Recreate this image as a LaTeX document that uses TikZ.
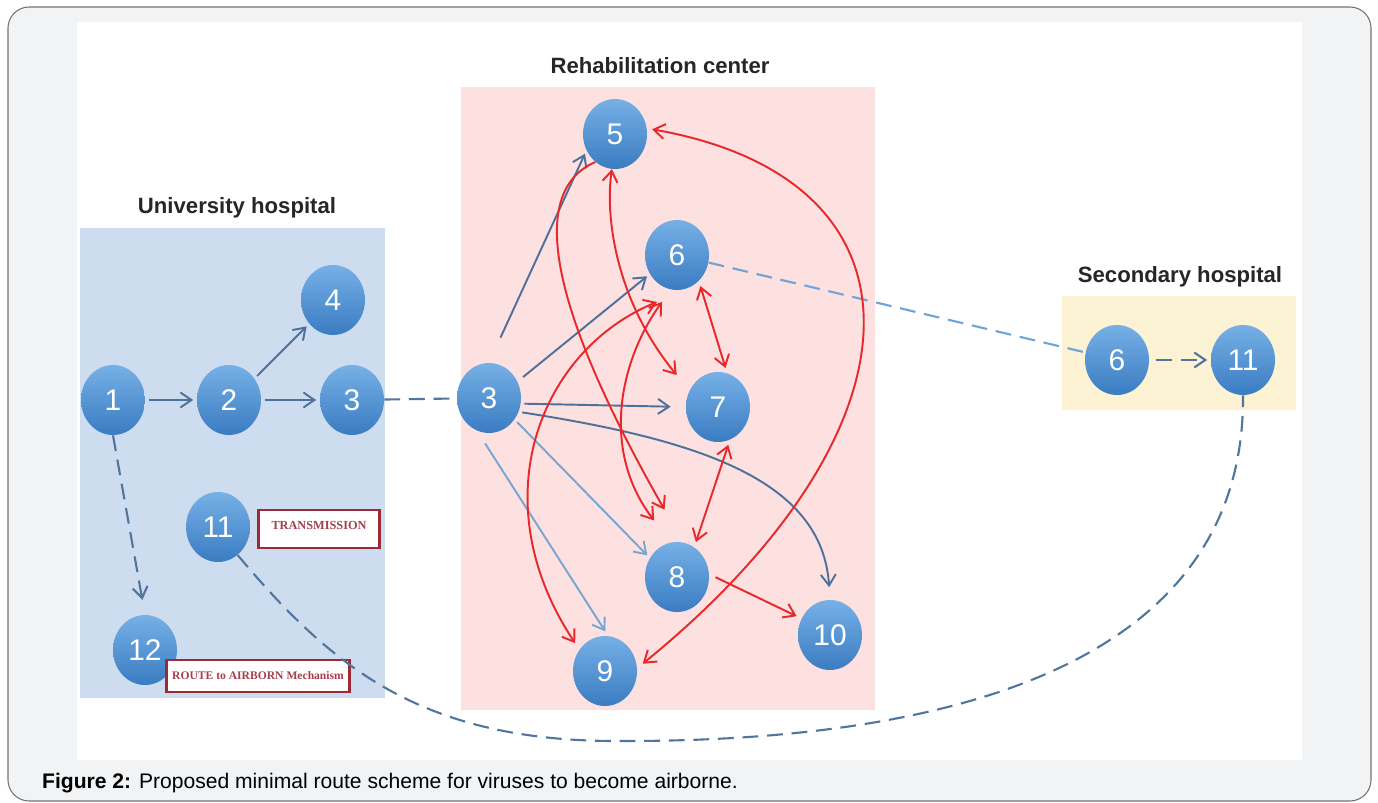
\documentclass[tikz,border=0pt]{standalone}
\usepackage{fontspec}
\setmainfont{Liberation Sans}
\newfontfamily\boxserif{Liberation Serif}
\usetikzlibrary{arrows.meta,shapes.geometric}
\definecolor{framebg}{HTML}{F1F3F5}
\definecolor{uniblue}{HTML}{CDDCEE}
\definecolor{rehapink}{HTML}{FDE0E0}
\definecolor{secyellow}{HTML}{FCF2D4}
\definecolor{nodetop}{HTML}{76B0E6}
\definecolor{nodebot}{HTML}{3A7CC2}
\definecolor{steel}{HTML}{4E719B}
\definecolor{paleroute}{HTML}{78A6D3}
\definecolor{dashblue}{HTML}{52759E}
\definecolor{lightdash}{HTML}{6EA4D8}
\definecolor{virusred}{HTML}{E8282B}
\definecolor{boxred}{HTML}{9C2A37}
\tikzset{
  bubble/.style={ellipse,minimum width=1.28cm,minimum height=1.4cm,inner sep=0pt,
    top color=nodetop,bottom color=nodebot,text=white,font=\fontsize{17}{17}\selectfont},
  title/.style={font=\fontsize{12.6}{12.6}\selectfont\bfseries,text=black!85},
  tag/.style={draw=boxred,line width=1.3pt,fill=white,inner sep=0pt,text=boxred!90,
    font=\boxserif\fontsize{7}{7}\selectfont\bfseries},
  route/.style={draw=steel,line width=1.1pt,-{Straight Barb[length=2.2mm,width=3mm]},
    shorten >=2pt,shorten <=2pt},
  spread/.style={draw=virusred,line width=1.1pt,-{Straight Barb[length=2.2mm,width=3mm]}},
  both/.style={spread,{Straight Barb[length=2.2mm,width=3mm]}-{Straight Barb[length=2.2mm,width=3mm]}},
  dashroute/.style={draw=dashblue,line width=1.2pt,dash pattern=on 9pt off 5pt}
}
\begin{document}
\begin{tikzpicture}[x=0.02cm,y=-0.02cm]
\useasboundingbox (0,0) rectangle (1378,803);
\draw[rounded corners=12pt,draw=black!55,fill=framebg,line width=0.6pt] (8,7) rectangle (1371,801);
\fill[white] (77,22) rectangle (1302,760);
\fill[uniblue] (80,228) rectangle (385,698);
\fill[rehapink] (461,87) rectangle (875,710);
\fill[secyellow] (1062,296) rectangle (1296,410);
\node[title] (tuni) at (237,208) {University hospital};
\node[title] (treha) at (660,66) {Rehabilitation center};
\node[title] (tsec) at (1180,277) {Secondary hospital};
\node[bubble] (u1) at (113,400) {1};
\node[bubble] (u2) at (229,400) {2};
\node[bubble] (u3) at (352,400) {3};
\node[bubble] (u4) at (333,300) {4};
\node[bubble] (u11) at (218,527) {11};
\node[bubble] (u12) at (145,650) {12};
\node[bubble] (r3) at (489,398) {3};
\node[bubble] (r5) at (615,134) {5};
\node[bubble] (r6) at (677,255) {6};
\node[bubble] (r7) at (718,407) {7};
\node[bubble] (r8) at (677,577) {8};
\node[bubble] (r9) at (605,671) {9};
\node[bubble] (r10) at (830,635) {10};
\node[bubble] (s6) at (1117,360) {6};
\node[bubble] (s11) at (1243,360) {11};
\node[tag,minimum width=2.42cm,minimum height=0.76cm,text depth=4pt] (trans) at (319,529) {TRANSMISSION};
\node[tag,minimum width=3.66cm,minimum height=0.64cm,font=\boxserif\fontsize{6.6}{6.6}\selectfont\bfseries] (airborn) at (258,676) {ROUTE to AIRBORN Mechanism};
\draw[route] (u1) -- (u2);
\draw[route] (u2) -- (u3);
\draw[route] (u2.40) -- (u4.225);
\draw[dashroute,-{Straight Barb[length=2.2mm,width=3mm]},shorten >=0.3cm] (u1.south) -- (u12.north);
\draw[dashroute] (u3) -- (r3);
\draw[dashroute] (u11.-55) .. controls (330,665) and (420,742) .. (620,741)
  .. controls (1000,742) and (1245,640) .. (s11.south);
\draw[dashroute,draw=lightdash] (r6) -- (s6);
\draw[dashroute,-{Straight Barb[length=2.2mm,width=3mm]},shorten >=2pt,shorten <=4pt] (s6) -- (s11);
\draw[route,shorten <=0.55cm] (r3.north) -- (r5.210);
\draw[route,shorten <=4pt] (r3.30) -- (r6.215);
\draw[route,shorten >=0.3cm] (r3.-10) -- (r7.180);
\draw[route,shorten >=0.25cm] (r3.-25) .. controls (700,440) and (822,480) .. (r10.north);
\draw[route,draw=paleroute] (r3.-40) -- (r8.145);
\draw[route,draw=paleroute,shorten <=0.3cm,shorten >=3pt] (r3.-110) -- (r9.85);
\draw[spread,shorten >=0.75cm] (r5.235) .. controls (530,190) and (545,300) .. (r8.80);
\draw[both,shorten >=0.4cm] (r5.265) .. controls (605,215) and (615,300) .. (r7.150);
\draw[both,shorten >=0.15cm] ([shift={(-20,47)}]r6.center) .. controls (540,350) and (480,500) .. (r9.140);
\draw[both,shorten <=0.3cm,shorten >=0.55cm] (r6.-100) .. controls (620,360) and (600,450) .. (r8.100);
\draw[both,shorten >=3pt,shorten <=3pt] (r6.-50) -- (r7.75);
\draw[both,shorten >=3pt,shorten <=3pt] (r7.-70) -- (r8.60);
\draw[spread,shorten >=3pt,shorten <=4pt] (r8.5) -- (r10.150);
\draw[both,shorten >=4pt,shorten <=3pt] (r5.10) .. controls (940,180) and (930,430) .. (r9.5);
\node[anchor=west,font=\fontsize{12}{12}\selectfont] (caption) at (36,783) {\textbf{Figure 2:} Proposed minimal route scheme for viruses to become airborne.};
\end{tikzpicture}
\end{document}
